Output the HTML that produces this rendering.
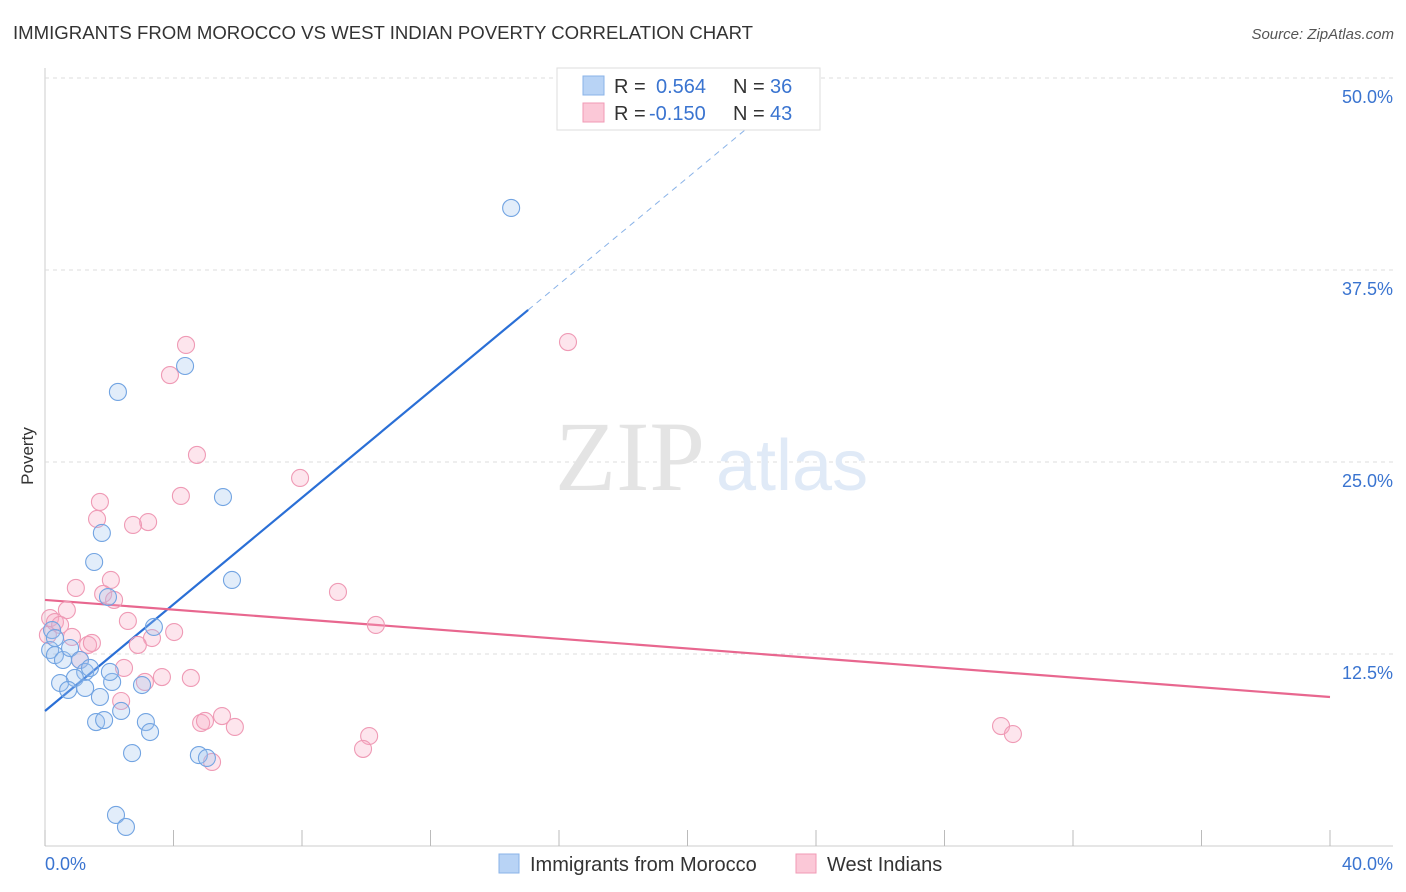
<!DOCTYPE html>
<html><head><meta charset="utf-8"><style>
body{margin:0;background:#fff;width:1406px;height:892px;overflow:hidden;font-family:"Liberation Sans",sans-serif}
svg{display:block}
</style></head><body>
<svg id="chart" width="1406" height="892" xmlns="http://www.w3.org/2000/svg">
<text x="13" y="39" font-size="18.6" fill="#333" font-family="Liberation Sans, sans-serif">IMMIGRANTS FROM MOROCCO VS WEST INDIAN POVERTY CORRELATION CHART</text>
<text x="1394" y="39" font-size="15" fill="#555" text-anchor="end" font-style="italic">Source: ZipAtlas.com</text>
<g id="grid"></g>
<g>
<text x="555" y="490" font-size="100" fill="#e4e4e4" font-family="Liberation Serif, serif">ZIP</text>
<text x="716" y="490" font-size="72" fill="#e0eaf7">atlas</text>
</g>
<text transform="translate(33,456) rotate(-90)" font-size="17" fill="#333" text-anchor="middle">Poverty</text>
<g id="lines"></g>
<g id="points"></g>
<g>
<rect x="557" y="68" width="263" height="62" fill="#fff" stroke="#ddd"/>
<rect x="583" y="76" width="21" height="19" fill="#b8d3f5" stroke="#8ab3e8"/>
<rect x="583" y="103" width="21" height="19" fill="#fbc8d7" stroke="#f09ab5"/>
<text x="614" y="93" font-size="20" fill="#333">R =</text>
<text x="656" y="93" font-size="20" fill="#3a74d0">0.564</text>
<text x="733" y="93" font-size="20" fill="#333">N =</text>
<text x="770" y="93" font-size="20" fill="#3a74d0">36</text>
<text x="614" y="120" font-size="20" fill="#333">R =</text>
<text x="649" y="120" font-size="20" fill="#3a74d0">-0.150</text>
<text x="733" y="120" font-size="20" fill="#333">N =</text>
<text x="770" y="120" font-size="20" fill="#3a74d0">43</text>
</g>
<g>
<rect x="499" y="854" width="20" height="19" fill="#b8d3f5" stroke="#8ab3e8"/>
<text x="530" y="871" font-size="20" fill="#333">Immigrants from Morocco</text>
<rect x="796" y="854" width="20" height="19" fill="#fbc8d7" stroke="#f09ab5"/>
<text x="827" y="871" font-size="20" fill="#333">West Indians</text>
</g>
</svg>
<script>
const blueX=[14.51,4.36,2.27,5.54,1.77,1.53,5.82,1.96,3.39,0.22,0.16,0.31,0.56,0.78,1.09,1.25,1.40,0.93,0.47,0.72,1.25,1.71,2.09,3.02,2.37,1.59,1.84,3.14,3.27,2.71,4.79,5.04,2.21,2.52,0.31,2.02];
const blueY=[41.54,31.25,29.56,22.72,20.38,18.49,17.32,16.21,14.26,14.06,12.76,12.43,12.11,12.89,12.11,11.33,11.59,10.94,10.61,10.16,10.29,9.70,10.68,10.48,8.79,8.07,8.20,8.07,7.42,6.05,5.92,5.73,2.02,1.24,13.54,11.33];
const pinkX=[16.28,4.39,3.89,4.73,7.94,4.23,1.71,1.62,3.21,2.74,0.96,2.05,1.81,2.15,9.12,0.68,2.58,10.30,4.02,3.33,0.16,0.31,0.47,0.84,1.34,1.46,1.09,2.89,2.46,3.64,4.54,3.11,2.37,4.86,4.98,5.51,5.91,10.09,9.90,5.20,29.76,30.13,0.09];
const pinkY=[32.81,32.62,30.66,25.46,23.96,22.79,22.40,21.29,21.09,20.90,16.80,17.32,16.41,16.02,16.54,15.36,14.65,14.39,13.93,13.54,14.84,14.58,14.39,13.61,13.09,13.22,12.11,13.09,11.59,11.00,10.94,10.68,9.44,8.01,8.14,8.46,7.75,7.16,6.32,5.47,7.81,7.29,13.74];
const yTicks=[12.5,25,37.5,50];
const yTickLabels=["12.5%","25.0%","37.5%","50.0%"];
const xTicks=[0,4,8,12,16,20,24,28,32,36,40];
const blueTrend=[8.79,1.736]; // intercept, slope
const pinkTrend=[16.02,-0.158];

const NS="http://www.w3.org/2000/svg";
const X=v=>45+v*32.125;
const Y=v=>846-v*15.36;
function mk(tag,attrs,parent){const e=document.createElementNS(NS,tag);for(const k in attrs)e.setAttribute(k,attrs[k]);parent.appendChild(e);return e;}
const grid=document.getElementById('grid');
mk('line',{x1:45,y1:68,x2:45,y2:846,stroke:'#ccc'},grid);
mk('line',{x1:45,y1:846,x2:1393,y2:846,stroke:'#ccc'},grid);
yTicks.forEach((t,i)=>{
 const l=mk('line',{x1:45,y1:Y(t),x2:1393,y2:Y(t),stroke:'#ddd','stroke-dasharray':'4,4'},grid);
 
 
 const tx=mk('text',{x:1393,y:Y(t)+25,'font-size':18,fill:'#3a74d0','text-anchor':'end'},grid);
 tx.textContent=yTickLabels[i];
 
 
});
xTicks.forEach(t=>{
 const l=mk('line',{x1:X(t),y1:830,x2:X(t),y2:846,stroke:'#bbb'},grid);
 
 
});
const x0=mk('text',{x:45,y:870,'font-size':18,fill:'#3a74d0'},grid);x0.textContent='0.0%';


const x1=mk('text',{x:1393,y:870,'font-size':18,fill:'#3a74d0','text-anchor':'end'},grid);x1.textContent='40.0%';



const lines=document.getElementById('lines');
const bl=mk('line',{x1:X(0),y1:Y(blueTrend[0]),x2:X(15.04),y2:Y(blueTrend[0]+blueTrend[1]*15.04),stroke:'#2a6fd6','stroke-width':2.2},lines);


const bd=mk('line',{x1:X(15.04),y1:Y(blueTrend[0]+blueTrend[1]*15.04),x2:X(22.5),y2:Y(blueTrend[0]+blueTrend[1]*22.5),stroke:'#8ab3e8','stroke-width':1,'stroke-dasharray':'6,5'},lines);


const pl=mk('line',{x1:X(0),y1:Y(pinkTrend[0]),x2:X(40),y2:Y(pinkTrend[0]+pinkTrend[1]*40),stroke:'#e8678f','stroke-width':2.2},lines);



const pts=document.getElementById('points');
pinkX.forEach((v,i)=>{
 const c=mk('circle',{cx:X(v),cy:Y(pinkY[i]),r:8.5,fill:'rgba(248,170,195,0.3)',stroke:'#ef9ab5','stroke-width':1.1},pts);
 
 
});
blueX.forEach((v,i)=>{
 const c=mk('circle',{cx:X(v),cy:Y(blueY[i]),r:8.5,fill:'rgba(160,195,240,0.3)',stroke:'#72a4e2','stroke-width':1.1},pts);
 
 
});
</script>
</body></html>
